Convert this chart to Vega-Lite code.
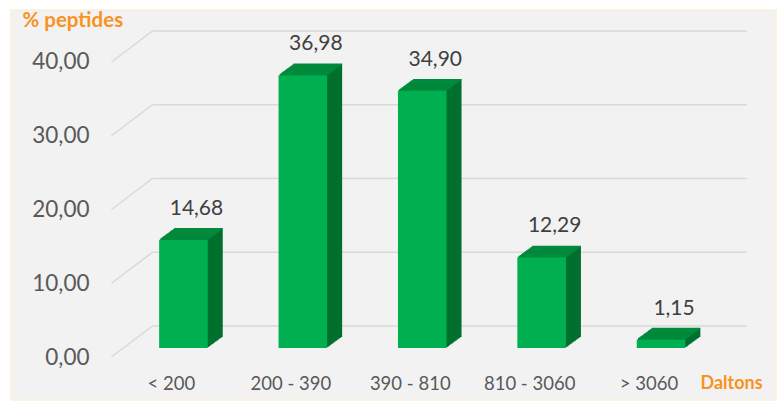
{
  "$schema": "https://vega.github.io/schema/vega-lite/v6.json",
  "width": 765,
  "height": 390,
  "autosize": "none",
  "padding": {"left": 11, "top": 10, "right": 1, "bottom": 5},
  "background": "#ffffff",
  "config": {
    "view": {"fill": "#f2f2f2", "stroke": "#fbf0da", "strokeWidth": 1.5},
    "font": "Lato",
    "locale": {"number": {"decimal": ",", "thousands": ".", "grouping": [3], "currency": ["", " €"]}}
  },
  "data": {"values": [
    {"cat": "< 200", "value": 14.68},
    {"cat": "200 - 390", "value": 36.98},
    {"cat": "390 - 810", "value": 34.90},
    {"cat": "810 - 3060", "value": 12.29},
    {"cat": "> 3060", "value": 1.15}
  ]},
  "encoding": {
    "x": {"field": "cat", "type": "nominal", "sort": null,
      "scale": {"type": "band", "domain": ["< 200", "200 - 390", "390 - 810", "810 - 3060", "> 3060"], "paddingInner": 0.593, "paddingOuter": 1.038, "align": 0.6204},
      "axis": {"orient": "bottom", "offset": -26, "labelOffset": -12, "labelAngle": 0, "labelFontSize": 18.5, "labelColor": "#595959", "labelPadding": 0, "labelBaseline": "top", "ticks": false, "domain": false, "grid": false,
        "title": "Daltons", "titleColor": "#f7931e", "titleFontSize": 18, "titleFontWeight": "bold", "titleAlign": "left", "titleBaseline": "middle", "titleX": 689, "titleY": 9}},
    "y": {"field": "value", "type": "quantitative",
      "scale": {"domain": [-5.83, 47.05], "nice": false, "zero": false},
      "axis": {"orient": "left", "offset": -79, "values": [0, 10, 20, 30, 40], "format": ".2f", "labelFontSize": 22.5, "labelColor": "#595959", "labelPadding": 1, "ticks": false, "domain": false, "grid": false,
        "title": "% peptides", "titleAngle": 0, "titleColor": "#f7931e", "titleFontSize": 20.5, "titleFontWeight": "bold", "titleAlign": "left", "titleBaseline": "middle", "titleX": -68, "titleY": 10}}
  },
  "layer": [
    {"data": {"values": [{"tick": 0}, {"tick": 10}, {"tick": 20}, {"tick": 30}, {"tick": 40}]},
     "mark": {"type": "rule", "color": "#d9d9d9", "strokeWidth": 1.5, "xOffset": -31, "x2Offset": 86, "yOffset": -31},
     "encoding": {"x": {"datum": "< 200"}, "x2": {"datum": "> 3060"}, "y": {"field": "tick", "type": "quantitative"}}},
    {"data": {"values": [{"tick": 0}, {"tick": 10}, {"tick": 20}, {"tick": 30}, {"tick": 40}]},
     "mark": {"type": "rule", "color": "#d9d9d9", "strokeWidth": 1.5, "xOffset": -72, "x2Offset": -31, "y2Offset": -31},
     "encoding": {"x": {"datum": "< 200"}, "x2": {"datum": "< 200"}, "y": {"field": "tick", "type": "quantitative"}, "y2": {"field": "tick"}}},
    {"mark": {"type": "bar", "color": "#00702e", "xOffset": 15, "yOffset": -20, "y2Offset": -20}, "encoding": {"y2": {"datum": 0}}},
    {"mark": {"type": "bar", "color": "#00702e", "xOffset": 13.75, "yOffset": -19.08, "y2Offset": -19.08}, "encoding": {"y2": {"datum": 0}}},
    {"mark": {"type": "bar", "color": "#00702e", "xOffset": 12.5, "yOffset": -18.17, "y2Offset": -18.17}, "encoding": {"y2": {"datum": 0}}},
    {"mark": {"type": "bar", "color": "#00702e", "xOffset": 11.25, "yOffset": -17.25, "y2Offset": -17.25}, "encoding": {"y2": {"datum": 0}}},
    {"mark": {"type": "bar", "color": "#00702e", "xOffset": 10, "yOffset": -16.33, "y2Offset": -16.33}, "encoding": {"y2": {"datum": 0}}},
    {"mark": {"type": "bar", "color": "#00702e", "xOffset": 8.75, "yOffset": -15.42, "y2Offset": -15.42}, "encoding": {"y2": {"datum": 0}}},
    {"mark": {"type": "bar", "color": "#00702e", "xOffset": 7.5, "yOffset": -14.5, "y2Offset": -14.5}, "encoding": {"y2": {"datum": 0}}},
    {"mark": {"type": "bar", "color": "#00702e", "xOffset": 6.25, "yOffset": -13.58, "y2Offset": -13.58}, "encoding": {"y2": {"datum": 0}}},
    {"mark": {"type": "bar", "color": "#00702e", "xOffset": 5, "yOffset": -12.67, "y2Offset": -12.67}, "encoding": {"y2": {"datum": 0}}},
    {"mark": {"type": "bar", "color": "#00702e", "xOffset": 3.75, "yOffset": -11.75, "y2Offset": -11.75}, "encoding": {"y2": {"datum": 0}}},
    {"mark": {"type": "bar", "color": "#00702e", "xOffset": 2.5, "yOffset": -10.83, "y2Offset": -10.83}, "encoding": {"y2": {"datum": 0}}},
    {"mark": {"type": "bar", "color": "#00702e", "xOffset": 1.25, "yOffset": -9.92, "y2Offset": -9.92}, "encoding": {"y2": {"datum": 0}}},
    {"mark": {"type": "bar", "fill": "#008a3c", "stroke": "#008a3c", "strokeWidth": 1.3, "xOffset": 15, "yOffset": -20, "y2Offset": -20}, "encoding": {"y2": {"field": "value"}}},
    {"mark": {"type": "bar", "fill": "#008a3c", "stroke": "#008a3c", "strokeWidth": 1.3, "xOffset": 13.75, "yOffset": -19.08, "y2Offset": -19.08}, "encoding": {"y2": {"field": "value"}}},
    {"mark": {"type": "bar", "fill": "#008a3c", "stroke": "#008a3c", "strokeWidth": 1.3, "xOffset": 12.5, "yOffset": -18.17, "y2Offset": -18.17}, "encoding": {"y2": {"field": "value"}}},
    {"mark": {"type": "bar", "fill": "#008a3c", "stroke": "#008a3c", "strokeWidth": 1.3, "xOffset": 11.25, "yOffset": -17.25, "y2Offset": -17.25}, "encoding": {"y2": {"field": "value"}}},
    {"mark": {"type": "bar", "fill": "#008a3c", "stroke": "#008a3c", "strokeWidth": 1.3, "xOffset": 10, "yOffset": -16.33, "y2Offset": -16.33}, "encoding": {"y2": {"field": "value"}}},
    {"mark": {"type": "bar", "fill": "#008a3c", "stroke": "#008a3c", "strokeWidth": 1.3, "xOffset": 8.75, "yOffset": -15.42, "y2Offset": -15.42}, "encoding": {"y2": {"field": "value"}}},
    {"mark": {"type": "bar", "fill": "#008a3c", "stroke": "#008a3c", "strokeWidth": 1.3, "xOffset": 7.5, "yOffset": -14.5, "y2Offset": -14.5}, "encoding": {"y2": {"field": "value"}}},
    {"mark": {"type": "bar", "fill": "#008a3c", "stroke": "#008a3c", "strokeWidth": 1.3, "xOffset": 6.25, "yOffset": -13.58, "y2Offset": -13.58}, "encoding": {"y2": {"field": "value"}}},
    {"mark": {"type": "bar", "fill": "#008a3c", "stroke": "#008a3c", "strokeWidth": 1.3, "xOffset": 5, "yOffset": -12.67, "y2Offset": -12.67}, "encoding": {"y2": {"field": "value"}}},
    {"mark": {"type": "bar", "fill": "#008a3c", "stroke": "#008a3c", "strokeWidth": 1.3, "xOffset": 3.75, "yOffset": -11.75, "y2Offset": -11.75}, "encoding": {"y2": {"field": "value"}}},
    {"mark": {"type": "bar", "fill": "#008a3c", "stroke": "#008a3c", "strokeWidth": 1.3, "xOffset": 2.5, "yOffset": -10.83, "y2Offset": -10.83}, "encoding": {"y2": {"field": "value"}}},
    {"mark": {"type": "bar", "fill": "#008a3c", "stroke": "#008a3c", "strokeWidth": 1.3, "xOffset": 1.25, "yOffset": -9.92, "y2Offset": -9.92}, "encoding": {"y2": {"field": "value"}}},
    {"mark": {"type": "bar", "color": "#00b050", "yOffset": -9, "y2Offset": -9}, "encoding": {"y2": {"datum": 0}}},
    {"mark": {"type": "text", "dx": 13, "dy": -40, "fontSize": 21, "color": "#404040", "baseline": "middle"},
     "encoding": {"text": {"field": "value", "type": "quantitative", "format": ".2f"}}}
  ]
}
